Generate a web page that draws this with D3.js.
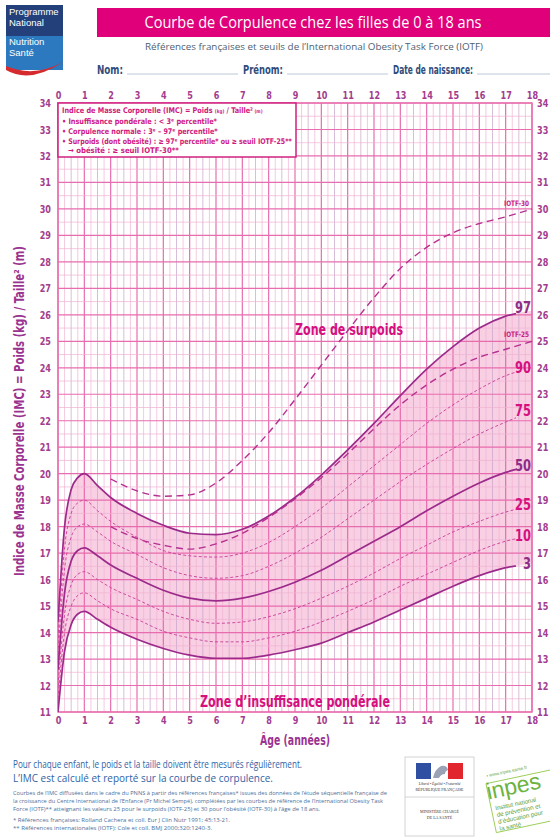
<!DOCTYPE html>
<html>
<head>
<meta charset="utf-8">
<script src="https://cdn.jsdelivr.net/npm/d3@7"></script>
<style>
html,body{margin:0;padding:0;background:#fff;}
svg{display:block;}
</style>
</head>
<body>
<svg id="chart" width="550" height="839"></svg>
<script>
// ---------------- DATA ----------------
const ages = [0,0.25,0.5,0.75,1,1.5,2,3,4,5,6,7,8,9,10,11,12,13,14,15,16,17,18];
const p97 = [14.4,18.0,19.4,19.85,20.0,19.55,19.1,18.5,18.05,17.75,17.7,17.9,18.4,19.1,19.95,20.9,21.9,22.95,23.95,24.8,25.5,25.95,26.15];
const p90 = [13.8,17.2,18.5,18.9,19.0,18.6,18.2,17.6,17.1,16.9,16.85,17.0,17.4,18.0,18.7,19.5,20.3,21.1,21.9,22.6,23.2,23.7,24.0];
const p75 = [13.2,16.4,17.6,18.0,18.1,17.8,17.45,16.95,16.45,16.15,16.05,16.15,16.5,17.0,17.6,18.3,19.0,19.7,20.35,20.95,21.5,21.95,22.35];
const p50 = [12.6,15.5,16.7,17.1,17.2,16.9,16.55,16.05,15.6,15.3,15.2,15.3,15.55,15.9,16.35,16.9,17.45,18.0,18.6,19.15,19.65,20.05,20.3];
const p25 = [12.0,14.7,15.8,16.2,16.3,16.0,15.7,15.25,14.8,14.5,14.35,14.4,14.6,14.9,15.3,15.75,16.25,16.8,17.3,17.8,18.2,18.55,18.8];
const p10 = [11.5,14.0,15.0,15.4,15.5,15.2,14.9,14.5,14.05,13.8,13.65,13.65,13.8,14.05,14.4,14.8,15.25,15.75,16.2,16.65,17.1,17.45,17.65];
const p3  = [11.0,13.3,14.3,14.7,14.8,14.5,14.2,13.75,13.4,13.15,13.03,13.03,13.15,13.35,13.6,14.0,14.4,14.85,15.3,15.75,16.15,16.45,16.6];

const iotfAges = [2,3,4,5,6,7,8,9,10,11,12,13,14,15,16,17,18];
const iotf30 = [19.8,19.35,19.15,19.2,19.65,20.5,21.55,22.8,24.1,25.4,26.65,27.75,28.55,29.1,29.45,29.7,30.0];
const iotf25 = [18.0,17.55,17.3,17.15,17.35,17.75,18.35,19.05,19.85,20.75,21.7,22.6,23.35,23.95,24.4,24.7,25.0];

const percentileNames = ["97","90","75","50","25","10","3"];
const xTicks = d3.range(0,19,1);
const yTicks = d3.range(11,35,1);

// ---------------- SETUP ----------------
const svg = d3.select("#chart");
const x = d3.scaleLinear().domain([0,18]).range([58,532]);
const y = d3.scaleLinear().domain([11,34]).range([712,103]);

const MAG = "#E0007A", PURP = "#9C2A8B", PINK = "#E86DAE", TXT = "#A23C8E";
const narrow = '"Liberation Sans Narrow","DejaVu Sans Condensed",Arial,"Liberation Sans",sans-serif';

function ctext(parent, tx, ty, sx, size, fill, anchor){
  return parent.append("text").attr("transform",`translate(${tx},${ty}) scale(${sx},1)`)
    .attr("font-family",narrow).attr("font-weight","bold").attr("font-size",size)
    .attr("fill",fill).attr("text-anchor",anchor||"start");
}
// squeeze a text (anchored start at tx,ty) so that it is exactly w pixels wide
function fitText(parent, tx, ty, w, size, fill, build){
  const t = parent.append("text").attr("font-family",narrow).attr("font-weight","bold")
    .attr("font-size",size).attr("fill",fill);
  build(t);
  const len = t.node().getComputedTextLength() || w;
  t.attr("transform",`translate(${tx},${ty}) scale(${w/len},1)`);
  return t;
}

// ---------------- HEADER ----------------
const logo = svg.append("g");
logo.append("rect").attr("x",6).attr("y",5).attr("width",57).attr("height",31).attr("fill","#23407A");
logo.append("rect").attr("x",6).attr("y",36).attr("width",57).attr("height",34).attr("fill","#2C79BF");
logo.append("path").attr("d","M6,70 Q30,84 63,62 Q34,78 6,66 Z").attr("fill","#D52B2E");
const lt = [["Programme",15],["National",26],["Nutrition",45],["Santé",56]];
logo.selectAll("text.lg").data(lt).join("text").attr("x",9).attr("y",d=>d[1])
  .attr("fill","#fff").attr("font-family","Liberation Sans, Arial, sans-serif").attr("font-size",9.5).text(d=>d[0]);

svg.append("rect").attr("x",97).attr("y",8).attr("width",453).attr("height",29).attr("fill",MAG);
svg.append("text").attr("x",313).attr("y",28).attr("text-anchor","middle").attr("fill","#fff")
  .attr("font-family",'"Open Sans","Noto Sans",sans-serif').attr("font-size",16.5)
  .attr("textLength",337).attr("lengthAdjust","spacingAndGlyphs")
  .text("Courbe de Corpulence chez les filles de 0 à 18 ans");
svg.append("text").attr("x",314).attr("y",50).attr("text-anchor","middle").attr("fill","#4E5F72")
  .attr("font-family",'"Open Sans","Noto Sans",sans-serif').attr("font-size",9.5)
  .attr("textLength",338).attr("lengthAdjust","spacingAndGlyphs")
  .text("Références françaises et seuils de l’International Obesity Task Force (IOTF)");

const fields = [["Nom:",97,26,127,238],["Prénom:",243,40,287,388],["Date de naissance:",393,80,477,550]];
fields.forEach(f=>{
  svg.append("text").attr("x",f[1]).attr("y",74).attr("fill","#2E4C7C").attr("font-weight","bold")
    .attr("font-family",narrow).attr("font-size",11.5).attr("textLength",f[2]).attr("lengthAdjust","spacingAndGlyphs").text(f[0]);
  svg.append("line").attr("x1",f[3]).attr("x2",f[4]).attr("y1",74).attr("y2",74).attr("stroke","#9FB3C8").attr("stroke-width",0.7);
});

// ---------------- PLOT ----------------
const plot = svg.append("g");
const band = d3.area().x((d,i)=>x(ages[i])).y0((d,i)=>y(p3[i])).y1((d,i)=>y(p97[i])).curve(d3.curveMonotoneX);
plot.append("path").attr("d",band(ages)).attr("fill","#F9CFE4");

const vMinor = d3.range(0,18.001,0.25);
plot.selectAll("line.vm").data(vMinor).join("line")
  .attr("x1",d=>x(d)).attr("x2",d=>x(d)).attr("y1",y(34)).attr("y2",y(11))
  .attr("stroke",d=>Number.isInteger(d)?PINK:(Math.abs(d%1-0.5)<1e-6?"#C7A3C8":"#F2B3D3"))
  .attr("stroke-width",d=>Number.isInteger(d)?1.2:0.7);
const hMinor = d3.range(11,34.001,0.5);
plot.selectAll("line.hm").data(hMinor).join("line")
  .attr("y1",d=>y(d)).attr("y2",d=>y(d)).attr("x1",x(0)).attr("x2",x(18))
  .attr("stroke",d=>Number.isInteger(d)?PINK:"#EFB2D2")
  .attr("stroke-width",d=>Number.isInteger(d)?1.2:0.7);
plot.append("rect").attr("x",x(0)).attr("y",y(34)).attr("width",x(18)-x(0)).attr("height",y(11)-y(34))
  .attr("fill","none").attr("stroke",PINK).attr("stroke-width",1.4);

svg.append("clipPath").attr("id","pclip").append("rect").attr("x",x(0)).attr("y",y(34)).attr("width",516-x(0)).attr("height",y(11)-y(34));

const line = d3.line().curve(d3.curveMonotoneX);
const series = {"97":p97,"90":p90,"75":p75,"50":p50,"25":p25,"10":p10,"3":p3};
const solid = new Set(["97","50","3"]);
const curves = plot.append("g").attr("clip-path","url(#pclip)");
percentileNames.forEach(k=>{
  const pts = ages.map((a,i)=>[x(a),y(series[k][i])]);
  curves.append("path").attr("d",line(pts)).attr("fill","none")
    .attr("stroke",solid.has(k)?PURP:"#C83C98")
    .attr("stroke-width",solid.has(k)?1.7:0.9)
    .attr("stroke-dasharray",solid.has(k)?null:"3,2.2");
});
[iotf30,iotf25].forEach(s=>{
  const pts = iotfAges.map((a,i)=>[x(a),y(s[i])]);
  plot.append("path").attr("d",line(pts)).attr("fill","none").attr("stroke","#B5308F")
    .attr("stroke-width",1.4).attr("stroke-dasharray","7,4.5");
});

percentileNames.forEach(k=>{
  const v = series[k][series[k].length-1];
  ctext(svg,531,y(v)+(k==="97"?2:5),0.85,15,solid.has(k)?"#8E2D86":"#D6107F","end").text(k);
});
ctext(svg,529,y(30)-3,0.85,7.5,"#C8207F","end").text("IOTF-30");
ctext(svg,529,y(25)-4,0.85,7.5,"#C8207F","end").text("IOTF-25");

svg.append("text").attr("x",295).attr("y",335).attr("font-family",narrow).attr("font-weight","bold")
  .attr("font-size",16).attr("fill","#D60F7E").attr("textLength",108).attr("lengthAdjust","spacingAndGlyphs").text("Zone de surpoids");
svg.append("text").attr("x",200).attr("y",707).attr("font-family",narrow).attr("font-weight","bold")
  .attr("font-size",16).attr("fill","#D60F7E").attr("textLength",190).attr("lengthAdjust","spacingAndGlyphs").text("Zone d’insuffisance pondérale");

// legend box
const lg = svg.append("g");
lg.append("rect").attr("x",58).attr("y",103).attr("width",238).attr("height",54).attr("fill","#fff")
  .attr("stroke","#D0217F").attr("stroke-width",1.5);
const LC = "#D1177E";
fitText(lg,62,113,201,7.8,LC,t=>{
  t.append("tspan").text("Indice de Masse Corporelle (IMC) = Poids ");
  t.append("tspan").attr("font-size",5).text("(kg)");
  t.append("tspan").text(" / Taille²");
  t.append("tspan").attr("font-size",5).text(" (m)");
});
fitText(lg,62,123.5,155,7.8,LC,t=>t.text("• Insuffisance pondérale : < 3ᵉ percentile*"));
fitText(lg,62,133.5,156,7.8,LC,t=>t.text("• Corpulence normale : 3ᵉ – 97ᵉ percentile*"));
fitText(lg,62,143.5,230,7.8,LC,t=>t.text("• Surpoids (dont obésité) : ≥ 97ᵉ percentile* ou ≥ seuil IOTF-25**"));
fitText(lg,68,153,111,7.8,LC,t=>t.text("→ obésité : ≥ seuil IOTF-30**"));

// axes tick labels
const tickStyle = sel => sel.call(g=>g.select(".domain").remove()).call(g=>g.selectAll("line").remove())
  .call(g=>g.selectAll("text").attr("font-family",narrow).attr("font-weight","bold").attr("font-size",11)
    .attr("fill",TXT).attr("transform","scale(0.82,1)"));
svg.append("g").attr("transform",`translate(0,${y(34)})`).call(d3.axisTop(x).tickValues(xTicks).tickSize(0).tickPadding(4).tickFormat(d3.format("d"))).call(tickStyle);
svg.append("g").attr("transform",`translate(0,${y(11)})`).call(d3.axisBottom(x).tickValues(xTicks).tickSize(0).tickPadding(4).tickFormat(d3.format("d"))).call(tickStyle);
svg.append("g").attr("transform",`translate(${x(0)-7},0)`).call(d3.axisLeft(y).tickValues(yTicks).tickSize(0).tickPadding(0).tickFormat(d3.format("d"))).call(tickStyle);
svg.append("g").attr("transform",`translate(${x(18)+5},0)`).call(d3.axisRight(y).tickValues(yTicks).tickSize(0).tickPadding(0).tickFormat(d3.format("d"))).call(tickStyle);

svg.append("text").attr("transform","translate(24,411) rotate(-90)").attr("text-anchor","middle")
  .attr("font-family",narrow).attr("font-weight","bold").attr("font-size",14.5).attr("fill","#9A3390")
  .attr("textLength",330).attr("lengthAdjust","spacingAndGlyphs")
  .text("Indice de Masse Corporelle (IMC) = Poids (kg) / Taille² (m)");
svg.append("text").attr("x",295).attr("y",745).attr("text-anchor","middle")
  .attr("font-family",narrow).attr("font-weight","bold").attr("font-size",14.5).attr("fill","#9A3390")
  .attr("textLength",70).attr("lengthAdjust","spacingAndGlyphs").text("Âge (années)");

// ---------------- FOOTER ----------------
const foot = [
  ["Pour chaque enfant, le poids et la taille doivent être mesurés régulièrement.",768,289,10.5,"#2F63A6"],
  ["L’IMC est calculé et reporté sur la courbe de corpulence.",782,260,10.5,"#2F63A6"],
  ["Courbes de l’IMC diffusées dans le cadre du PNNS à partir des références françaises*  issues des données de l’étude séquentielle française de",795,374,5.6,"#4C6F9C"],
  ["la croissance du Centre International de l’Enfance (Pr Michel Sempé), complétées par les courbes de référence de l’International Obesity Task",803,370,5.6,"#4C6F9C"],
  ["Force (IOTF)** atteignant les valeurs 25 pour le surpoids (IOTF-25) et 30 pour l’obésité (IOTF-30) à l’âge de 18 ans.",810.5,307,5.6,"#4C6F9C"],
  ["* Références françaises: Rolland Cachera et coll. Eur J Clin Nutr 1991; 45:13-21.",822,217,5.6,"#4C6F9C"],
  ["** Références internationales (IOTF): Cole et coll. BMJ 2000;320:1240-3.",829.5,199,5.6,"#4C6F9C"]
];
svg.selectAll("text.ft").data(foot).join("text").attr("x",13).attr("y",d=>d[1])
  .attr("font-family",'"Open Sans","Noto Sans",sans-serif').attr("font-size",d=>d[3]).attr("fill",d=>d[4])
  .attr("textLength",d=>d[2]).attr("lengthAdjust","spacingAndGlyphs").text(d=>d[0]);

// Ministry logo
const mg = svg.append("g");
mg.append("rect").attr("x",405).attr("y",757).attr("width",69).attr("height",79).attr("fill","#fff").attr("stroke","#C9C9C9").attr("stroke-width",0.8);
mg.append("rect").attr("x",416).attr("y",763).attr("width",15).attr("height",16).attr("fill","#2F4FA2");
mg.append("rect").attr("x",448).attr("y",763).attr("width",15).attr("height",16).attr("fill","#E1262D");
mg.append("path").attr("d","M433,778 q2,-9 8,-12 q6,-1 7,4 q-3,1 -3,4 q-4,0 -6,4 z").attr("fill","#9AA3B5");
mg.append("text").attr("x",439.5).attr("y",785).attr("text-anchor","middle").attr("font-size",3.6).attr("font-style","italic")
  .attr("font-family","Liberation Serif, serif").attr("fill","#333").text("Liberté • Égalité • Fraternité");
mg.append("text").attr("x",439.5).attr("y",791).attr("text-anchor","middle").attr("font-size",4)
  .attr("font-family","Liberation Serif, serif").attr("fill","#333").text("RÉPUBLIQUE FRANÇAISE");
mg.append("line").attr("x1",405).attr("x2",474).attr("y1",797).attr("y2",797).attr("stroke","#C9C9C9").attr("stroke-width",0.8);
mg.append("text").attr("x",439.5).attr("y",813).attr("text-anchor","middle").attr("font-size",4)
  .attr("font-family","Liberation Serif, serif").attr("fill","#333").text("MINISTÈRE CHARGÉ");
mg.append("text").attr("x",439.5).attr("y",819).attr("text-anchor","middle").attr("font-size",4)
  .attr("font-family","Liberation Serif, serif").attr("fill","#333").text("DE LA SANTÉ");

// inpes logo
const ig = svg.append("g").attr("transform","rotate(-12,515,800)");
ig.append("rect").attr("x",490).attr("y",778).attr("width",70).attr("height",50).attr("fill","#fff").attr("stroke","#8DC63F").attr("stroke-width",0.8);
ig.append("text").attr("x",492).attr("y",772).attr("font-size",4.6).attr("font-family","Liberation Sans, sans-serif").attr("fill","#6AA84F").text("▪ www.inpes.sante.fr");
ig.append("text").attr("x",489).attr("y",794).attr("font-size",23).attr("font-family","Liberation Sans, sans-serif").attr("fill","#6DB33F").text("inpes");
const il = [["Institut national",806],["de prévention et",813],["d’éducation pour",820],["la santé",827]];
ig.selectAll("text.il").data(il).join("text").attr("x",494).attr("y",d=>d[1]).attr("font-size",6.2)
  .attr("font-family","Liberation Sans, sans-serif").attr("fill","#5C9E3A").text(d=>d[0]);
</script>
</body>
</html>
